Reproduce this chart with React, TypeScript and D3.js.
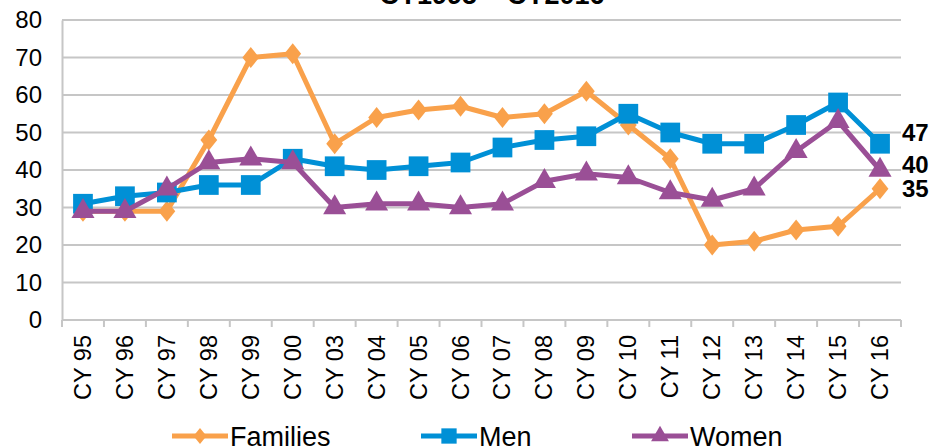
import React, { useEffect, useRef } from "react";
import * as d3 from "d3";

const categories = ["CY 95", "CY 96", "CY 97", "CY 98", "CY 99", "CY 00", "CY 03", "CY 04", "CY 05", "CY 06",
  "CY 07", "CY 08", "CY 09", "CY 10", "CY 11", "CY 12", "CY 13", "CY 14", "CY 15", "CY 16"];
const families = [29, 29, 29, 48, 70, 71, 47, 54, 56, 57, 54, 55, 61, 52, 43, 20, 21, 24, 25, 35];
const men = [31, 33, 34, 36, 36, 43, 41, 40, 41, 42, 46, 48, 49, 55, 50, 47, 47, 52, 58, 47];
const women = [29, 29, 35, 42, 43, 42, 30, 31, 31, 30, 31, 37, 39, 38, 34, 32, 35, 45, 53, 40];
const yTicks = [0, 10, 20, 30, 40, 50, 60, 70, 80];
const title = "CY1995 – CY2016";

export default function App() {
  const ref = useRef<SVGSVGElement>(null);

  useEffect(() => {
    const svg = d3.select(ref.current);
    svg.selectAll("*").remove();
    const width = 941;
    const height = 446;
    const margin = { top: 20, right: 40, bottom: 126, left: 62 };
    const font = "'Liberation Sans', Arial, sans-serif";

    const x = d3.scaleBand().domain(categories).range([margin.left, width - margin.right]);
    const y = d3.scaleLinear().domain([0, 80]).range([height - margin.bottom, margin.top]);

    svg.append("text")
      .attr("x", 492).attr("y", 4)
      .attr("text-anchor", "middle")
      .attr("font-family", font).attr("font-weight", "bold").attr("font-size", 27)
      .text(title);

    // gridlines
    svg.append("g").selectAll("line").data(yTicks.filter((d) => d > 0)).join("line")
      .attr("x1", margin.left).attr("x2", width - margin.right)
      .attr("y1", (d) => y(d)).attr("y2", (d) => y(d))
      .attr("stroke", "#c6c6c6").attr("stroke-width", 2);

    // y axis
    const yAxis = svg.append("g").attr("transform", `translate(${margin.left},0)`)
      .call(d3.axisLeft(y).tickValues(yTicks).tickSize(0).tickPadding(20));
    yAxis.select(".domain").attr("stroke", "#c6c6c6").attr("stroke-width", 2);
    yAxis.selectAll("text").attr("font-family", font).attr("font-size", 24).attr("fill", "#000");

    // x axis
    const bounds = categories.map((c) => x(c)!).concat([width - margin.right]);
    const xg = svg.append("g");
    xg.append("line")
      .attr("x1", margin.left).attr("x2", width - margin.right)
      .attr("y1", y(0)).attr("y2", y(0))
      .attr("stroke", "#c6c6c6").attr("stroke-width", 2);
    xg.selectAll("line.tick").data(bounds).join("line").attr("class", "tick")
      .attr("x1", (d) => d).attr("x2", (d) => d)
      .attr("y1", y(0)).attr("y2", y(0) + 7)
      .attr("stroke", "#c6c6c6").attr("stroke-width", 2);
    xg.selectAll("text").data(categories).join("text")
      .attr("transform", (d) => `translate(${x(d)! + x.bandwidth() / 2 + 8},${y(0) + 15}) rotate(-90)`)
      .attr("text-anchor", "end")
      .attr("font-family", font).attr("font-size", 23.5)
      .text((d) => d);

    const cx = (i: number) => x(categories[i])! + x.bandwidth() / 2;
    const line = d3.line<number>().x((_, i) => cx(i)).y((d) => y(d));

    const series = [
      { name: "Families", values: families, color: "#f9a14b", symbol: d3.symbolDiamond, size: 125 },
      { name: "Men", values: men, color: "#0090d6", symbol: d3.symbolSquare, size: 390 },
      { name: "Women", values: women, color: "#9a4f96", symbol: d3.symbolTriangle, size: 230 },
    ];
    const symTf = (s: { symbol: d3.SymbolType }) => (s.symbol === d3.symbolDiamond ? " scale(1.4,1)" : "");

    series.forEach((s) => {
      svg.append("path").datum(s.values)
        .attr("d", line).attr("fill", "none")
        .attr("stroke", s.color).attr("stroke-width", 5).attr("stroke-linejoin", "round");
      const sym = d3.symbol().type(s.symbol).size(s.size);
      svg.append("g").selectAll("path").data(s.values).join("path")
        .attr("d", sym)
        .attr("transform", (d, i) => `translate(${cx(i)},${y(d)})${symTf(s)}`)
        .attr("fill", s.color);
    });

    // end labels
    const ends = [
      { v: men[men.length - 1], dy: -9 },
      { v: women[women.length - 1], dy: -3 },
      { v: families[families.length - 1], dy: 2 },
    ];
    svg.append("g").selectAll("text").data(ends).join("text")
      .attr("x", 902).attr("y", (d) => y(d.v) + d.dy)
      .attr("dominant-baseline", "middle")
      .attr("font-family", font).attr("font-weight", "bold").attr("font-size", 24)
      .text((d) => d.v);

    // legend
    const legendX = [172, 421, 632];
    const lg = svg.append("g");
    series.forEach((s, i) => {
      const g = lg.append("g").attr("transform", `translate(${legendX[i]},436)`);
      g.append("line").attr("x1", 0).attr("x2", 56).attr("y1", 0).attr("y2", 0)
        .attr("stroke", s.color).attr("stroke-width", 5);
      g.append("path").attr("d", d3.symbol().type(s.symbol).size(s.size * 0.6))
        .attr("transform", `translate(28,0)${symTf(s)}`)
        .attr("fill", s.color);
      g.append("text").attr("x", 58).attr("y", 10)
        .attr("font-family", font).attr("font-size", 27)
        .text(s.name);
    });
  }, []);

  return (
    <svg ref={ref} width={941} height={446}
      style={{ position: "absolute", left: 0, top: 0, background: "#fff" }} />
  );
}
